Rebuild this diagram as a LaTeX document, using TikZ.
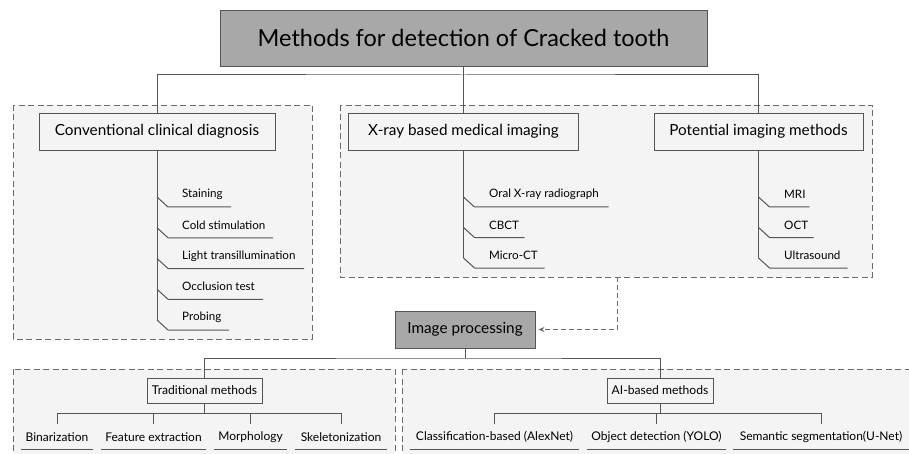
\documentclass[tikz,border=0pt]{standalone}
\usepackage{fontspec}
\setmainfont{Lato}
\usetikzlibrary{arrows.meta}
\definecolor{headgray}{HTML}{A8A8A8}
\definecolor{linegray}{HTML}{555555}
\definecolor{panelgray}{HTML}{F4F4F4}
\definecolor{dashgray}{HTML}{6A6A6A}
\tikzset{
panel/.style={draw=dashgray, fill=panelgray, line width=0.9pt, dash pattern=on 6pt off 3.5pt},
conn/.style={draw=linegray, line width=1pt},
headbox/.style={draw=linegray, fill=headgray, line width=0.9pt, inner sep=0pt},
catbox/.style={draw=linegray, fill=panelgray, line width=0.9pt, inner sep=0pt, font=\fontsize{15.3}{18}\selectfont},
subbox/.style={draw=linegray, fill=panelgray, line width=0.9pt, inner sep=0pt, minimum height=25pt, font=\fontsize{12.1}{14}\selectfont},
leaf/.style={anchor=west, inner sep=0pt, font=\fontsize{11.6}{13}\selectfont},
endleaf/.style={inner sep=0pt, font=\fontsize{12}{14}\selectfont}
}

\begin{document}
\begin{tikzpicture}[x=1pt, y=-1pt]
\useasboundingbox (0,0) rectangle (909,454);
\clip (0,0) rectangle (909,454);

%%Panels (background)
\draw[panel] (13,105) rectangle (312,339);
\draw[panel] (340,105) rectangle (872,277);
\draw[panel] (13,369) rectangle (395,480);
\draw[panel] (402,369) rectangle (930,480);

%%Top level
\node[headbox, minimum width=487pt, minimum height=56pt, font=\fontsize{23.5}{27}\selectfont] (title) at (463.5,38) {Methods for detection of Cracked tooth};
\coordinate (bus) at (463.5,75);

\node[catbox, minimum width=236pt, minimum height=37pt] (conv) at (157,131.5) {Conventional clinical diagnosis};
\node[catbox, minimum width=230pt, minimum height=37pt] (xray) at (463.5,131.5) {X-ray based medical imaging};
\node[catbox, minimum width=209pt, minimum height=37pt] (pot) at (758.5,131.5) {Potential imaging methods};

\draw[conn] (title.south) -- (bus);
\draw[conn] (conv.north) |- (bus) -| (pot.north);
\draw[conn] (bus) -- (xray.north);

%%Leaves of the three categories
\foreach \n/\txt/\w [count=\i] in {stain/Staining/63, cold/Cold stimulation/105, light/Light transillumination/136, occl/Occlusion test/95, prob/Probing/61} {
  \pgfmathsetmacro{\yy}{207+(\i-1)*30.75}
  \node[leaf] (\n) at (182,\yy-12.5) {\txt};
  \draw[conn] (157,\yy-10) -- (168,\yy) -- ++(\w,0);
}
\draw[conn] (conv.south) -- (157,320);

\foreach \n/\txt/\w [count=\i] in {oral/Oral X-ray radiograph/134, cbct/CBCT/50, micro/Micro-CT/70} {
  \pgfmathsetmacro{\yy}{207+(\i-1)*30.5}
  \node[leaf] (\n) at (489,\yy-12.5) {\txt};
  \draw[conn] (463.5,\yy-10) -- (474.5,\yy) -- ++(\w,0);
}
\draw[conn] (xray.south) -- (463.5,258);

\foreach \n/\txt/\w [count=\i] in {mri/MRI/40, oct/OCT/44, ultra/Ultrasound/78} {
  \pgfmathsetmacro{\yy}{207+(\i-1)*30.5}
  \node[leaf] (\n) at (784,\yy-12.5) {\txt};
  \draw[conn] (758.5,\yy-10) -- (769.5,\yy) -- ++(\w,0);
}
\draw[conn] (pot.south) -- (758.5,258);

%%Image processing
\node[headbox, minimum width=140pt, minimum height=37pt, font=\fontsize{15.3}{18}\selectfont] (imgproc) at (465,329.5) {Image processing};
\coordinate (xraybottom) at (617,277);
\draw[draw=dashgray, line width=0.9pt, dash pattern=on 5pt off 3pt, -{Stealth[length=6pt,width=5pt]}] (xraybottom) |- ([xshift=3pt]imgproc.east);

\coordinate (ipbus) at (465,358);
\node[subbox, minimum width=115pt] (trad) at (204.5,390.5) {Traditional methods};
\node[subbox, minimum width=106pt] (ai) at (660,390.5) {AI-based methods};
\draw[conn] (imgproc.south) -- (ipbus);
\draw[conn] (trad.north) |- (ipbus) -| (ai.north);

%%Bottom leaves
\draw[conn] (trad.south) -- (204.5,413);
\draw[conn] (57,424) -- (57,413) -- (341,413) -- (341,424);
\foreach \n/\txt/\x/\w in {bin/Binarization/57/72, feat/Feature extraction/153.5/105, morph/Morphology/250.5/73, skel/Skeletonization/341/92} {
  \node[endleaf] (\n) at (\x,437) {\txt};
  \draw[conn] (\x,413) -- (\x,424);
  \draw[conn] (\x-\w/2,449) -- (\x+\w/2,449);
}

\draw[conn] (ai.south) -- (660,413);
\draw[conn] (494.5,424) -- (494.5,413) -- (821,413) -- (821,424);
\foreach \n/\txt/\x/\w in {cls/Classification-based (AlexNet)/494.5/169, yolo/Object detection (YOLO)/656.5/139, unet/Semantic segmentation(U-Net)/821/176} {
  \node[endleaf] (\n) at (\x,437) {\txt};
  \draw[conn] (\x,413) -- (\x,424);
  \draw[conn] (\x-\w/2,449) -- (\x+\w/2,449);
}

\end{tikzpicture}
\end{document}
